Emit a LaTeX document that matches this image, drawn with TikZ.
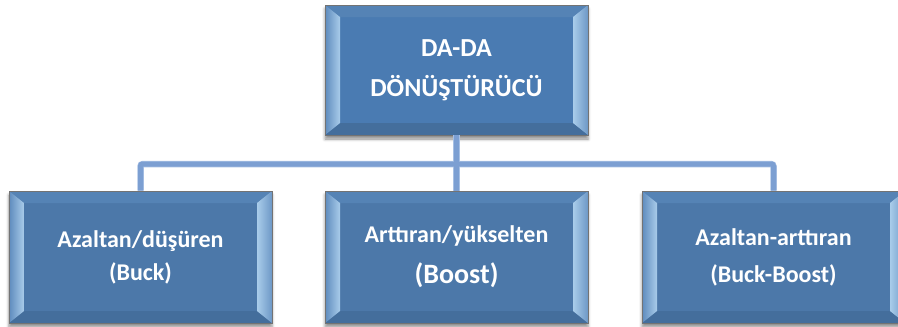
\documentclass[tikz,border=0pt]{standalone}
\usepackage{fontspec}
\setmainfont{Carlito}
\usetikzlibrary{calc,shadows.blur}
\definecolor{faceblue}{HTML}{4C78A9}
\definecolor{topfaceblue}{HTML}{4A7BB2}
\definecolor{bevtop}{HTML}{5583B5}
\definecolor{bevbot}{HTML}{446E9C}
\definecolor{bevlightA}{HTML}{A9CCEA}
\definecolor{bevlightB}{HTML}{5E8BBD}
\definecolor{connblue}{HTML}{7C9FD2}
\definecolor{connedge}{HTML}{A7C0E4}
\tikzset{
  bevelbox/.style={rectangle, draw=black!55, line width=0.6pt, fill=#1,
    minimum width=263pt, minimum height=132pt, inner sep=0pt,
    text=white, align=center,
    blur shadow={shadow xshift=0pt, shadow yshift=-4pt, shadow blur radius=3pt, shadow opacity=45},
    path picture={
      \coordinate (pNW) at (path picture bounding box.north west);
      \coordinate (pNE) at (path picture bounding box.north east);
      \coordinate (pSW) at (path picture bounding box.south west);
      \coordinate (pSE) at (path picture bounding box.south east);
      \coordinate (iNW) at ($(pNW)+(15pt,-12pt)$);
      \coordinate (iNE) at ($(pNE)+(-15pt,-12pt)$);
      \coordinate (iSW) at ($(pSW)+(15pt,12pt)$);
      \coordinate (iSE) at ($(pSE)+(-15pt,12pt)$);
      \fill[bevtop] (pNW) -- (pNE) -- (iNE) -- (iNW) -- cycle;
      \fill[bevbot] (pSW) -- (pSE) -- (iSE) -- (iSW) -- cycle;
      \shade[left color=bevlightB, right color=bevlightA] (pNW) -- (iNW) -- (iSW) -- (pSW) -- cycle;
      \shade[left color=bevlightA, right color=bevlightB!80!bevlightA] (pNE) -- (iNE) -- (iSE) -- (pSE) -- cycle;
    }},
  conn/.style={line width=5pt, color=connblue, rounded corners=2pt},
  connhalo/.style={line width=6.5pt, color=connedge, rounded corners=2.5pt},
}
\begin{document}
\begin{tikzpicture}[x=1pt,y=-1pt]
\useasboundingbox (0,0) rectangle (898,327);
\node[bevelbox=topfaceblue, minimum height=130pt, font=\bfseries\fontsize{26}{40}\selectfont] (top) at (456.5,70) {DA-DA\\DÖNÜŞTÜRÜCÜ};
\node[bevelbox=faceblue, font=\bfseries\fontsize{24}{33}\selectfont] (buck) at (140.5,257) {Azaltan/düşüren\\(Buck)};
\node[bevelbox=faceblue, font=\bfseries\fontsize{24}{41}\selectfont] (boost) at (456.5,257) {Arttıran/yükselten\\{\fontsize{28}{41}\selectfont(Boost)}};
\node[bevelbox=faceblue, font=\bfseries\fontsize{24}{37}\selectfont] (bb) at (773.5,257) {Azaltan-arttıran\\(Buck-Boost)};
\coordinate (bus) at (456.5,164);
\draw[connhalo] (buck.north) |- (bus) -| (bb.north);
\draw[connhalo] (top.south) -- (boost.north);
\draw[conn] (buck.north) |- (bus) -| (bb.north);
\draw[conn] (top.south) -- (boost.north);
\end{tikzpicture}
\end{document}
